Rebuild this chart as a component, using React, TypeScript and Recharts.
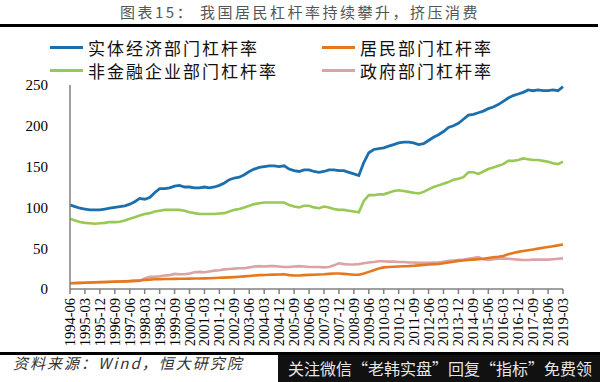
import React from "react";
import { LineChart, Line, XAxis, YAxis } from "recharts";

// quarterly, 1994-06 .. 2019-03
const QUARTERS = [
  "1994-06", "1994-09", "1994-12",
  "1995-03", "1995-06", "1995-09", "1995-12",
  "1996-03", "1996-06", "1996-09", "1996-12",
  "1997-03", "1997-06", "1997-09", "1997-12",
  "1998-03", "1998-06", "1998-09", "1998-12",
  "1999-03", "1999-06", "1999-09", "1999-12",
  "2000-03", "2000-06", "2000-09", "2000-12",
  "2001-03", "2001-06", "2001-09", "2001-12",
  "2002-03", "2002-06", "2002-09", "2002-12",
  "2003-03", "2003-06", "2003-09", "2003-12",
  "2004-03", "2004-06", "2004-09", "2004-12",
  "2005-03", "2005-06", "2005-09", "2005-12",
  "2006-03", "2006-06", "2006-09", "2006-12",
  "2007-03", "2007-06", "2007-09", "2007-12",
  "2008-03", "2008-06", "2008-09", "2008-12",
  "2009-03", "2009-06", "2009-09", "2009-12",
  "2010-03", "2010-06", "2010-09", "2010-12",
  "2011-03", "2011-06", "2011-09", "2011-12",
  "2012-03", "2012-06", "2012-09", "2012-12",
  "2013-03", "2013-06", "2013-09", "2013-12",
  "2014-03", "2014-06", "2014-09", "2014-12",
  "2015-03", "2015-06", "2015-09", "2015-12",
  "2016-03", "2016-06", "2016-09", "2016-12",
  "2017-03", "2017-06", "2017-09", "2017-12",
  "2018-03", "2018-06", "2018-09", "2018-12",
  "2019-03",
];

// 实体经济部门杠杆率
const TOTAL = [
  103, 101, 99, 98, 97, 97, 97, 98, 99, 100,
  101, 102, 104, 107, 111, 110, 112, 118, 123, 123,
  124, 126, 127, 125, 125, 124, 124, 125, 124, 125,
  127, 130, 134, 136, 137, 140, 144, 147, 149, 150,
  151, 151, 150, 151, 147, 145, 144, 146, 146, 144,
  143, 144, 146, 146, 145, 145, 143, 141, 139, 155,
  167, 171, 172, 173, 175, 177, 179, 180, 180, 179,
  177, 178, 182, 186, 189, 193, 198, 200, 203, 208,
  213, 214, 216, 218, 221, 223, 226, 230, 234, 237,
  239, 241, 244, 243, 244, 243, 243, 244, 243, 248,
];

// 居民部门杠杆率
const HOUSEHOLD = [
  7, 7.3, 7.5, 7.7, 8, 8.2, 8.4, 8.6, 8.8, 9,
  9.2, 9.4, 9.6, 10, 10.5, 11, 11.5, 12, 12, 12.2,
  12.3, 12.4, 12.5, 12.6, 12.7, 12.8, 12.9, 13, 13.2, 13.5,
  13.8, 14, 14.3, 14.6, 15, 15.5, 16, 16.5, 17, 17.2,
  17.4, 17.6, 17.8, 18, 17, 16.5, 16.5, 17, 17.3, 17.5,
  17.8, 18, 18.5, 19, 19, 18.5, 18, 17.5, 17.5, 19,
  21, 23, 25, 26.5, 27, 27.3, 27.6, 27.8, 28, 28.5,
  29, 29.5, 30, 30.3, 30.6, 31.5, 32.5, 33.5, 34.5, 35,
  35.5, 36, 36.5, 37, 38, 39, 39.6, 40.5, 42.5, 44,
  45.5, 46.5, 47.5, 48.5, 49.5, 50.5, 51.5, 52.5, 53.5, 54.5,
];

// 非金融企业部门杠杆率
const CORPORATE = [
  86, 84, 82, 81, 80.5, 80, 80.5, 81, 82, 82,
  82.5, 84, 86, 88, 90, 92, 93, 95, 96, 97,
  97, 97, 97, 96, 94, 93, 92, 92, 92, 92,
  92.5, 93, 95, 97, 98, 100, 102, 104, 105, 106,
  106, 106, 106, 106, 103, 101, 100, 102, 102, 100,
  99, 101, 100, 98, 97, 97, 96, 95, 94, 108,
  115, 115, 116, 116, 118, 120, 121, 120, 119, 118,
  117, 119, 122, 125, 127, 129, 131, 134, 135, 137,
  143, 143, 141, 144, 147, 149, 151, 153, 157, 157,
  158, 160, 159, 158, 158, 157, 156, 154, 153, 156,
];

// 政府部门杠杆率
const GOVERNMENT = [
  7, 7.2, 7.4, 7.6, 7.8, 8, 8.2, 8.4, 8.6, 8.8,
  9, 9.3, 9.6, 10, 10, 13, 15, 15, 15.5, 16.5,
  17, 18.5, 18, 18, 19, 20.5, 21, 20.5, 21.5, 22.5,
  23, 24, 24.5, 25, 25.5, 25.5, 26.5, 27.5, 28, 27.5,
  28, 28, 27.5, 27, 27, 27.5, 28, 27.5, 27, 27,
  27, 26.5, 27, 29, 31.5, 30.5, 30, 30, 30.5, 31.5,
  32.5, 33, 34, 34, 33.5, 33.5, 33, 33, 32.5, 32.5,
  32, 32, 32, 32.5, 32.5, 33.5, 34.5, 35, 35.5, 36,
  37, 38, 39, 36.5, 35.5, 36.5, 37, 37.5, 37, 36.5,
  36, 35.5, 35.5, 36, 36, 36, 36, 36.5, 37, 37.5,
];

const Y_TICKS = [0, 50, 100, 150, 200, 250];

const BLUE = "#1c6fad";
const ORANGE = "#e5781d";
const GREEN = "#98c855";
const PINK = "#dca3a3";

const CJK = '"Noto Sans CJK SC", sans-serif';
const SERIF = '"Liberation Serif", "DejaVu Serif", serif';

const data = QUARTERS.map((q, i) => ({
  q,
  total: TOTAL[i],
  household: HOUSEHOLD[i],
  corporate: CORPORATE[i],
  government: GOVERNMENT[i],
}));

const legendItems = [
  { label: "实体经济部门杠杆率", color: BLUE, left: 50, top: 37 },
  { label: "居民部门杠杆率", color: ORANGE, left: 322, top: 37 },
  { label: "非金融企业部门杠杆率", color: GREEN, left: 50, top: 60 },
  { label: "政府部门杠杆率", color: PINK, left: 322, top: 60 },
];

function QuarterTick(props: any) {
  const { x, y, payload } = props;
  return (
    <text
      x={x}
      y={y + 2}
      transform={`rotate(-90, ${x}, ${y + 2})`}
      textAnchor="end"
      dominantBaseline="central"
      fontFamily={SERIF}
      fontSize={14.5}
      fill="#000"
    >
      {payload.value}
    </text>
  );
}

export default function App() {
  return (
    <div
      style={{
        position: "absolute",
        left: 0,
        top: 0,
        width: 600,
        height: 382,
        background: "#fff",
        overflow: "hidden",
      }}
    >
      <div
        style={{
          position: "absolute",
          top: 2,
          left: 0,
          width: 600,
          textAlign: "center",
          fontFamily: CJK,
          fontSize: 15,
          letterSpacing: 2.5,
          color: "#555",
          lineHeight: "20px",
        }}
      >
        图表15： 我国居民杠杆率持续攀升，挤压消费
      </div>
      <div style={{ position: "absolute", top: 24, left: 0, width: 598, height: 3, background: "#000" }} />

      {legendItems.map((it) => (
        <div
          key={it.label}
          style={{
            position: "absolute",
            left: it.left,
            top: it.top,
            height: 20,
            display: "flex",
            alignItems: "center",
            fontFamily: CJK,
            fontSize: 17,
            letterSpacing: 2,
            color: "#111",
            whiteSpace: "nowrap",
          }}
        >
          <span style={{ display: "inline-block", width: 33, height: 3, background: it.color, marginRight: 5 }} />
          {it.label}
        </div>
      ))}

      <div style={{ position: "absolute", top: 0, left: 0 }}>
        <LineChart
          width={600}
          height={382}
          data={data}
          margin={{ top: 85, right: 37, left: 0, bottom: 33 }}
        >
          <XAxis
            dataKey="q"
            interval={2}
            height={60}
            stroke="#808080"
            strokeWidth={1.5}
            tickSize={5}
            tick={<QuarterTick />}
          />
          <YAxis
            width={70}
            domain={[0, 250]}
            ticks={Y_TICKS}
            stroke="#808080"
            strokeWidth={1.5}
            tickLine={false}
            tickMargin={16}
            tick={{ fontFamily: SERIF, fontSize: 15, fill: "#000" }}
          />
          <Line type="linear" dataKey="corporate" stroke={GREEN} strokeWidth={2.6} dot={false} isAnimationActive={false} />
          <Line type="linear" dataKey="government" stroke={PINK} strokeWidth={2.6} dot={false} isAnimationActive={false} />
          <Line type="linear" dataKey="household" stroke={ORANGE} strokeWidth={2.6} dot={false} isAnimationActive={false} />
          <Line type="linear" dataKey="total" stroke={BLUE} strokeWidth={2.8} dot={false} isAnimationActive={false} />
        </LineChart>
      </div>

      <div style={{ position: "absolute", top: 352, left: 0, width: 600, height: 3, background: "#000" }} />
      <div
        style={{
          position: "absolute",
          top: 352,
          left: 13,
          height: 22,
          lineHeight: "22px",
          fontFamily: CJK,
          fontSize: 15,
          fontStyle: "italic",
          letterSpacing: 2,
          color: "#333",
          whiteSpace: "nowrap",
        }}
      >
        资料来源：Wind，恒大研究院
      </div>
      <div
        style={{
          position: "absolute",
          top: 355,
          left: 278,
          width: 322,
          height: 27,
          background: "#111",
          color: "#e6e6e6",
          fontFamily: CJK,
          fontSize: 16,
          lineHeight: "27px",
          paddingLeft: 10,
          whiteSpace: "nowrap",
          boxSizing: "border-box",
        }}
      >
        关注微信“老韩实盘”回复“指标”免费领
      </div>
    </div>
  );
}
